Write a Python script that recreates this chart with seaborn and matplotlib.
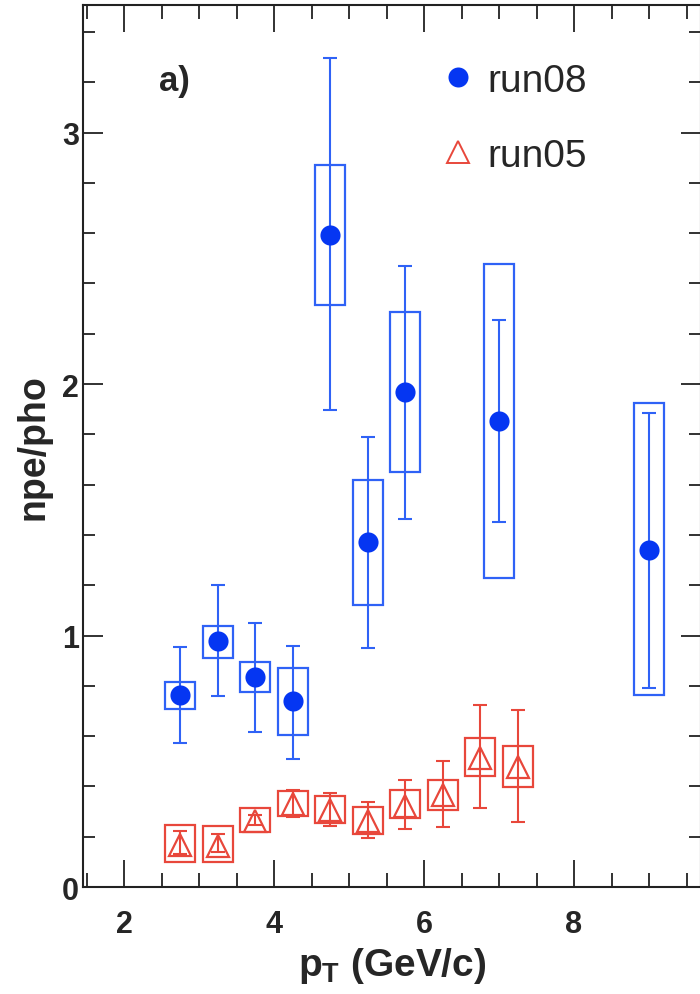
import matplotlib
matplotlib.use("Agg")
import matplotlib.pyplot as plt
from matplotlib.lines import Line2D
from matplotlib.ticker import MultipleLocator
import numpy as np
import seaborn as sns

# run08 (blue, filled circles)
pt08 = [2.75, 3.25, 3.75, 4.25, 4.75, 5.25, 5.75, 7.0, 9.0]
val08 = [0.764, 0.977, 0.837, 0.738, 2.592, 1.373, 1.968, 1.854, 1.340]
stat_lo08 = [0.572, 0.758, 0.618, 0.511, 1.897, 0.952, 1.465, 1.451, 0.793]
stat_hi08 = [0.955, 1.200, 1.050, 0.960, 3.296, 1.790, 2.469, 2.253, 1.884]
sys_lo08 = [0.709, 0.912, 0.774, 0.606, 2.313, 1.122, 1.649, 1.230, 0.765]
sys_hi08 = [0.817, 1.038, 0.895, 0.872, 2.871, 1.620, 2.285, 2.477, 1.925]

# run05 (red, open triangles)
pt05 = [2.75, 3.25, 3.75, 4.25, 4.75, 5.25, 5.75, 6.25, 6.75, 7.25]
val05 = [0.167, 0.165, 0.264, 0.330, 0.308, 0.264, 0.324, 0.366, 0.512, 0.476]
stat_lo05 = [0.131, 0.140, 0.245, 0.280, 0.244, 0.196, 0.231, 0.237, 0.315, 0.260]
stat_hi05 = [0.224, 0.211, 0.285, 0.386, 0.373, 0.337, 0.427, 0.500, 0.722, 0.702]
sys_lo05 = [0.098, 0.098, 0.217, 0.283, 0.253, 0.212, 0.273, 0.308, 0.440, 0.397]
sys_hi05 = [0.248, 0.241, 0.314, 0.381, 0.362, 0.320, 0.386, 0.427, 0.594, 0.559]

BLUE = "#0536F2"
BLUE_LINE = "#2F62F6"
RED = "#E8473B"
INK = "#222222"

sns.set_theme(style="ticks")
plt.rcParams["font.family"] = ["Liberation Sans", "DejaVu Sans"]
plt.rcParams["mathtext.fontset"] = "custom"
plt.rcParams["mathtext.rm"] = "Liberation Sans:bold"
plt.rcParams["mathtext.it"] = "Liberation Sans:bold"
plt.rcParams["mathtext.bf"] = "Liberation Sans:bold"

fig = plt.figure(figsize=(7, 9.95), dpi=100)
ax = fig.add_axes([0.119, 0.1075, 0.8824, 0.8864])

# systematic boxes
for xs, lo, hi, col in [(pt08, sys_lo08, sys_hi08, BLUE_LINE),
                        (pt05, sys_lo05, sys_hi05, RED)]:
    lo = np.array(lo)
    hi = np.array(hi)
    ax.bar(xs, hi - lo, bottom=lo, width=0.4, facecolor="none",
           edgecolor=col, linewidth=1.6, zorder=2)

# statistical error bars
for xs, v, lo, hi, col in [(pt08, val08, stat_lo08, stat_hi08, BLUE_LINE),
                           (pt05, val05, stat_lo05, stat_hi05, RED)]:
    v = np.array(v)
    yerr = [v - np.array(lo), np.array(hi) - v]
    ax.errorbar(xs, v, yerr=yerr, fmt="none", ecolor=col, elinewidth=1.5,
                capsize=5, capthick=1.5, zorder=3)

sns.scatterplot(x=pt08, y=val08, ax=ax, marker="o", s=210, color=BLUE,
                edgecolor=BLUE, linewidth=0, legend=False, zorder=4)
ax.plot(pt05, val05, linestyle="none", marker="^", markersize=16,
        markerfacecolor="none", markeredgecolor=RED, markeredgewidth=1.6,
        zorder=4)

ax.set_xlim(1.457, 9.693)
ax.set_ylim(0, 3.507)
ax.xaxis.set_major_locator(MultipleLocator(2))
ax.xaxis.set_minor_locator(MultipleLocator(0.5))
ax.yaxis.set_major_locator(MultipleLocator(1))
ax.yaxis.set_minor_locator(MultipleLocator(0.2))

ax.tick_params(which="both", direction="in", top=True, right=True,
               color=INK, width=1.3)
ax.tick_params(axis="x", which="major", length=19.4, pad=16, labelsize=22)
ax.tick_params(axis="x", which="minor", length=10)
ax.tick_params(axis="y", which="major", length=14.4, pad=3, labelsize=22)
ax.tick_params(axis="y", which="minor", length=8.4)
for lab in ax.get_xticklabels() + ax.get_yticklabels():
    lab.set_fontweight("bold")
for sp in ax.spines.values():
    sp.set_color(INK)
    sp.set_linewidth(1.5)

ax.set_xlabel(r"$p_T$ (GeV/c)", fontsize=28, fontweight="bold", labelpad=4)
ax.set_ylabel("npe/pho", fontsize=27, fontweight="bold", labelpad=8)

ax.text(0.148, 0.914, "a)", transform=ax.transAxes, fontsize=25,
        fontweight="bold", ha="center", va="center")

handles = [
    Line2D([], [], linestyle="none", marker="o", markersize=14.4,
           color=BLUE, markeredgewidth=0),
    Line2D([], [], linestyle="none", marker="^", markersize=16,
           markerfacecolor="none", markeredgecolor=RED, markeredgewidth=1.4),
]
ax.legend(handles, ["run08", "run05"], loc="upper left",
          bbox_to_anchor=(0.5815, 0.9345), frameon=False, fontsize=28,
          handlelength=0.8, handletextpad=0.35, labelspacing=1.0,
          borderpad=0, borderaxespad=0)

fig.savefig("out.png", dpi=100)
